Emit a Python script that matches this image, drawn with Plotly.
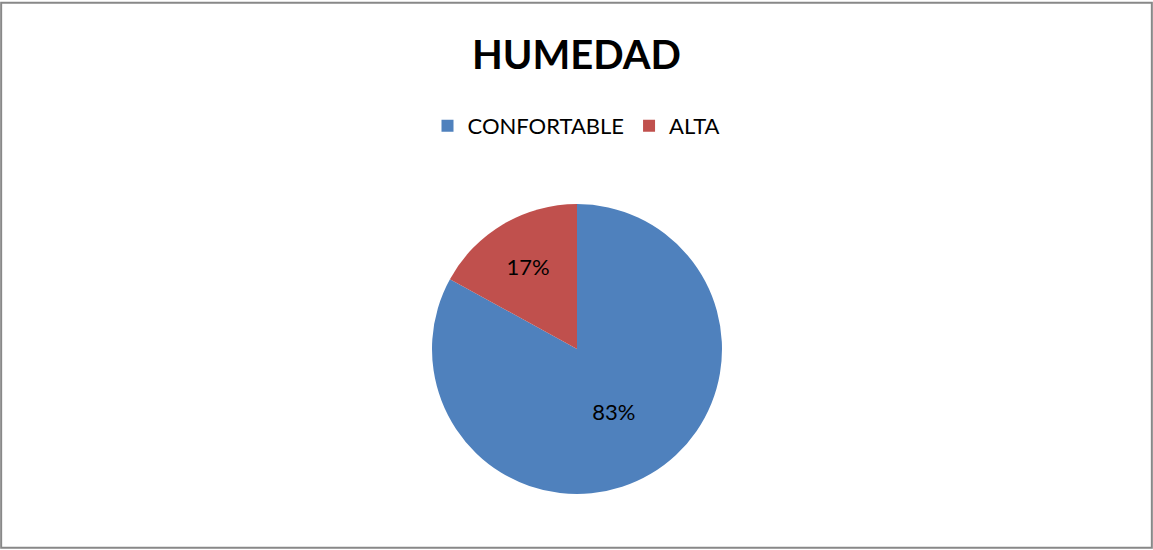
import plotly.graph_objects as go

categories = ["CONFORTABLE", "ALTA"]
values = [83, 17]
colors = ["#4F81BD", "#C0504D"]
title_text = "HUMEDAD"

W, H = 1153, 550
cx, cy, r = 577, 349, 145

fig = go.Figure(go.Pie(
    labels=categories,
    values=values,
    marker=dict(colors=colors, line=dict(width=0)),
    sort=False,
    direction="clockwise",
    rotation=0,
    textinfo="percent",
    texttemplate="%{percent:.0%}",
    textposition="inside",
    insidetextorientation="horizontal",
    textfont=dict(family="Lato", size=22, color="black"),
    domain=dict(x=[(cx - r) / W, (cx + r) / W], y=[(H - cy - r) / H, (H - cy + r) / H]),
    hoverinfo="label+percent",
))

fig.update_layout(
    width=W, height=H,
    margin=dict(l=0, r=0, t=0, b=0),
    paper_bgcolor="white",
    plot_bgcolor="white",
    font=dict(family="Lato", color="black"),
    title=dict(text="<b>" + title_text + "</b>", x=0.5, xanchor="center", y=1 - 55 / H, yanchor="middle",
               font=dict(family="Lato", size=40, color="black")),
    legend=dict(orientation="h", x=0.5, xanchor="center", y=1 - 126 / H, yanchor="middle",
                font=dict(family="Lato", size=22, color="black"), itemwidth=30, traceorder="normal"),
    shapes=[dict(type="rect", xref="paper", yref="paper", x0=0.001, x1=0.999, y0=0.004, y1=0.995,
                 line=dict(color="#888888", width=2), fillcolor="rgba(0,0,0,0)")],
)

fig.write_html("out.html", config={"displayModeBar": False},
               post_script="document.body.style.margin='0';document.body.style.padding='0';")
